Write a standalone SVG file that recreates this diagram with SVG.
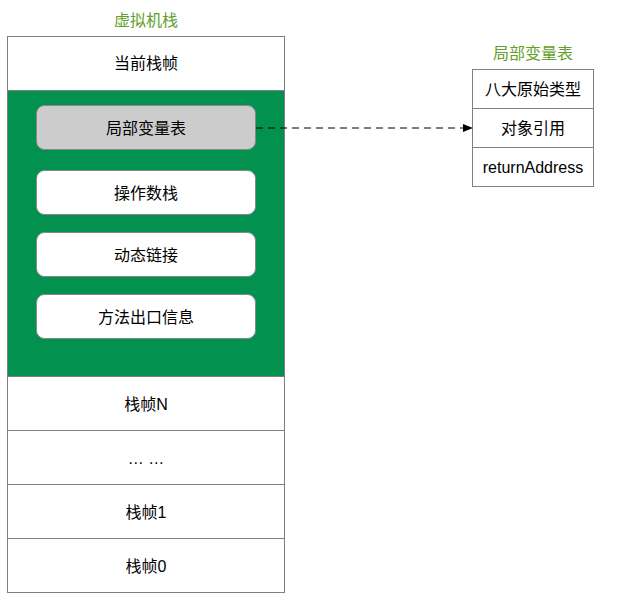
<svg xmlns="http://www.w3.org/2000/svg" width="626" height="606" viewBox="0 0 626 606">
<defs>
<style>
.t{font-family:"Liberation Sans","Noto Sans CJK SC",sans-serif;font-size:16px;fill:#000;text-anchor:middle;dominant-baseline:central}
.g{fill:#62a02a}
.cell{fill:#fff;stroke:#808080;stroke-width:1}
.inner{fill:#fff;stroke:#888;stroke-width:1}
</style>
<marker id="ah" markerWidth="10" markerHeight="8" refX="9" refY="4" orient="auto" markerUnits="userSpaceOnUse">
<path d="M0,0 L10,4 L0,8 Z" fill="#000"/>
</marker>
</defs>
<rect width="626" height="606" fill="#fff"/>
<text class="t g" x="146" y="20">虚拟机栈</text>
<text class="t g" x="533" y="53">局部变量表</text>
<g id="stack">
<g id="current"><rect class="cell" x="7.5" y="36.5" width="277" height="54"/><text class="t" x="146" y="63.5">当前栈帧</text></g>
<g id="active"><rect x="7.5" y="90.5" width="277" height="286" fill="#039150" stroke="#808080"/></g>
<g id="lvt"><rect x="36.5" y="105.5" width="219" height="44" rx="8" fill="#cccccc" stroke="#888"/><text class="t" x="146" y="128">局部变量表</text></g>
<g id="opstack"><rect class="inner" x="36.5" y="170.5" width="219" height="44" rx="8"/><text class="t" x="146" y="193">操作数栈</text></g>
<g id="dynlink"><rect class="inner" x="36.5" y="232.5" width="219" height="44" rx="8"/><text class="t" x="146" y="255">动态链接</text></g>
<g id="ret"><rect class="inner" x="36.5" y="294.5" width="219" height="44" rx="8"/><text class="t" x="146" y="317">方法出口信息</text></g>
<g id="frameN"><rect class="cell" x="7.5" y="376.5" width="277" height="54"/><text class="t" x="146" y="404">栈帧N</text></g>
<g id="dots"><rect class="cell" x="7.5" y="430.5" width="277" height="54"/><text class="t" x="146" y="458">… …</text></g>
<g id="frame1"><rect class="cell" x="7.5" y="484.5" width="277" height="54"/><text class="t" x="146" y="512">栈帧1</text></g>
<g id="frame0"><rect class="cell" x="7.5" y="538.5" width="277" height="54"/><text class="t" x="146" y="566">栈帧0</text></g>
</g>
<g id="table">
<g id="prim"><rect class="cell" x="472.5" y="69.5" width="121" height="39"/><text class="t" x="533" y="89">八大原始类型</text></g>
<g id="ref"><rect class="cell" x="472.5" y="108.5" width="121" height="39"/><text class="t" x="533" y="128">对象引用</text></g>
<g id="retaddr"><rect class="cell" x="472.5" y="147.5" width="121" height="39"/><text class="t" x="533" y="167">returnAddress</text></g>
</g>
<g id="connectors">
<line x1="256" y1="128" x2="472" y2="128" stroke="#000" stroke-width="1" stroke-dasharray="7,5" marker-end="url(#ah)"/>
</g>
</svg>
